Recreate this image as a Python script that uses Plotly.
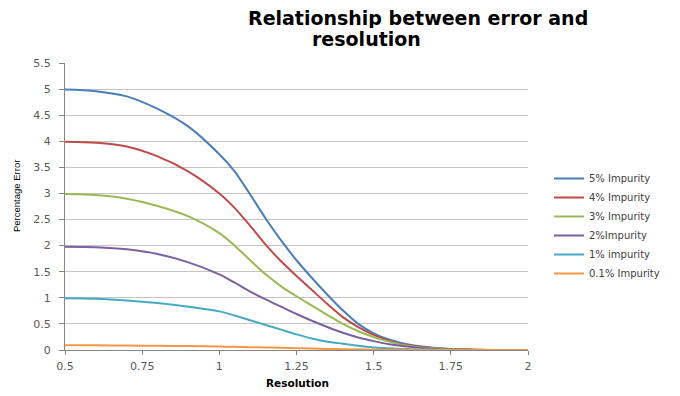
import plotly.graph_objects as go

resolution = [0.5, 0.6, 0.7, 0.8, 0.9, 1.0, 1.05, 1.1, 1.15, 1.2, 1.25, 1.3, 1.35,
              1.4, 1.45, 1.5, 1.55, 1.6, 1.7, 1.8, 1.9, 2.0]

imp_5 = [4.99, 4.96, 4.86, 4.62, 4.28, 3.75, 3.42, 2.98, 2.52, 2.10, 1.72, 1.38, 1.06,
         0.76, 0.50, 0.32, 0.20, 0.12, 0.04, 0.01, 0.0, 0.0]
imp_4 = [3.99, 3.97, 3.90, 3.71, 3.42, 3.00, 2.72, 2.38, 2.02, 1.70, 1.42, 1.15, 0.88,
         0.63, 0.44, 0.29, 0.18, 0.10, 0.035, 0.01, 0.0, 0.0]
imp_3 = [2.99, 2.97, 2.90, 2.76, 2.56, 2.24, 2.00, 1.72, 1.45, 1.22, 1.03, 0.85, 0.67,
         0.50, 0.36, 0.25, 0.16, 0.09, 0.03, 0.01, 0.0, 0.0]
imp_2 = [1.98, 1.97, 1.93, 1.84, 1.68, 1.45, 1.29, 1.12, 0.97, 0.83, 0.69, 0.56, 0.44,
         0.33, 0.24, 0.17, 0.11, 0.07, 0.02, 0.005, 0.0, 0.0]
imp_1 = [0.99, 0.98, 0.95, 0.90, 0.83, 0.74, 0.66, 0.57, 0.48, 0.39, 0.30, 0.22, 0.16,
         0.12, 0.08, 0.05, 0.035, 0.02, 0.01, 0.0, 0.0, 0.0]
imp_01 = [0.09, 0.09, 0.085, 0.08, 0.075, 0.065, 0.06, 0.055, 0.05, 0.042, 0.035, 0.028,
          0.02, 0.015, 0.01, 0.007, 0.005, 0.003, 0.001, 0.0, 0.0, 0.0]

series_names = ["5% Impurity", "4% Impurity", "3% Impurity", "2%Impurity",
                "1% impurity", "0.1% Impurity"]
series_values = [imp_5, imp_4, imp_3, imp_2, imp_1, imp_01]
colors = ["#4A7EBB", "#BE4B48", "#98B954", "#7D60A0", "#46AAC5", "#F79646"]

x_ticks = [0.5, 0.75, 1, 1.25, 1.5, 1.75, 2]
x_ticktext = ["0.5", "0.75", "1", "1.25", "1.5", "1.75", "2"]
y_ticks = [0, 0.5, 1, 1.5, 2, 2.5, 3, 3.5, 4, 4.5, 5, 5.5]
y_ticktext = ["0", "0.5", "1", "1.5", "2", "2.5", "3", "3.5", "4", "4.5", "5", "5.5"]

fig = go.Figure()
for name, vals, col in zip(series_names, series_values, colors):
    fig.add_trace(go.Scatter(
        x=resolution, y=vals, name=name, mode="lines",
        line=dict(color=col, width=2, shape="spline", smoothing=0.8),
    ))

tick_font = dict(family="DejaVu Sans", size=11, color="#595959")

# page body has an 8px margin, so the figure sits 8px right/down on the page
PW, PH = 463, 287  # plot area size
OX, OY = 65, 63     # plot area top-left on the page

def px(xp):
    return (xp - OX) / PW

def py(yp):
    return (OY + PH - yp) / PH

fig.update_layout(
    width=672, height=388,
    margin=dict(l=57, r=152, t=55, b=46),
    paper_bgcolor="white", plot_bgcolor="white",
    showlegend=True,
    legend=dict(
        x=px(549), y=py(164), xanchor="left", yanchor="top",
        font=dict(family="DejaVu Sans", size=10, color="#404040"),
        bgcolor="rgba(0,0,0,0)", tracegroupgap=0,
    ),
    xaxis=dict(
        range=[0.5, 2.0], tickvals=x_ticks, ticktext=x_ticktext,
        showgrid=False, zeroline=False,
        showline=True, linecolor="#868686", linewidth=1,
        ticks="outside", ticklen=4, tickcolor="#868686",
        tickfont=tick_font, ticklabelstandoff=2,
    ),
    yaxis=dict(
        range=[0, 5.5], tickvals=y_ticks, ticktext=y_ticktext,
        showgrid=True, gridcolor="#C4C4C4", gridwidth=1, zeroline=False,
        showline=True, linecolor="#868686", linewidth=1,
        ticks="outside", ticklen=5, tickcolor="#868686",
        tickfont=tick_font, ticklabelstandoff=6,
    ),
    annotations=[
        dict(text="<b>Relationship between error and</b>", xref="paper", yref="paper",
             x=px(418), y=py(17.5), xanchor="center", yanchor="middle", height=20,
             showarrow=False, font=dict(family="DejaVu Sans", size=19, color="#000000")),
        dict(text="<b>resolution</b>", xref="paper", yref="paper",
             x=px(366), y=py(39.5), xanchor="center", yanchor="middle", height=18,
             showarrow=False, font=dict(family="DejaVu Sans", size=19, color="#000000")),
        dict(text="<b>Resolution</b>", xref="paper", yref="paper",
             x=px(297), y=py(383), xanchor="center", yanchor="middle",
             showarrow=False, font=dict(family="DejaVu Sans", size=10.5, color="#000000")),
        dict(text="Percentage Error", xref="paper", yref="paper", textangle=-90,
             x=px(16), y=py(196), xanchor="center", yanchor="middle",
             showarrow=False, font=dict(family="Liberation Sans", size=9.5, color="#000000")),
    ],
)

fig.write_html("out.html")
